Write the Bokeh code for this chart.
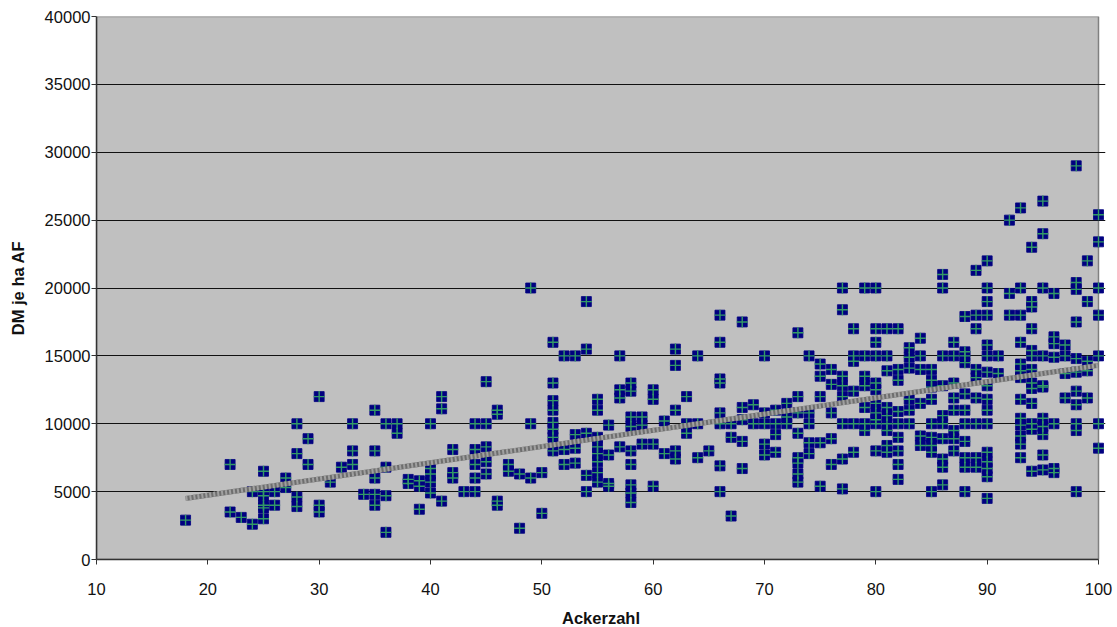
from bokeh.plotting import figure
from bokeh.embed import file_html
from bokeh.resources import INLINE
from bokeh.models import FixedTicker, Range1d

x_ticks = [10, 20, 30, 40, 50, 60, 70, 80, 90, 100]
y_ticks = [0, 5000, 10000, 15000, 20000, 25000, 30000, 35000, 40000]
x_title = "Ackerzahl"
y_title = "DM je ha AF"

ackerzahl = [18, 22, 23, 24, 25, 26, 27, 28, 29, 30, 31, 32, 33, 34, 35, 36, 37, 38, 39, 40,
             41, 42, 43, 44, 45, 46, 47, 48, 49, 50, 51, 52, 53, 54, 55, 56, 57, 58, 59, 60,
             61, 62, 63, 64, 65, 66, 67, 68, 69, 70, 71, 72, 73, 74, 75, 76, 77, 78, 79, 80,
             81, 82, 83, 84, 85, 86, 87, 88, 89, 90, 91, 92, 93, 94, 95, 96, 97, 98, 99, 100]
dm_je_ha = [
    [2900], [7000, 3500], [3100], [2600, 5000], [6500, 5000, 4700, 4000, 3800, 3000],
    [5000, 4000], [6000, 5300], [10000, 7800, 4600, 3900], [8900, 7000], [12000, 4000, 3500],
    [5700], [6800], [10000, 8000, 7000], [4800], [11000, 8000, 6000, 4800, 4000],
    [10000, 6800, 4700, 2000], [10000, 9300], [5900, 5600], [5800, 5400, 3700],
    [10000, 6700, 6300, 5700, 4900],
    [12000, 11100, 4300], [8100, 6400, 6000], [5000], [10000, 8100, 7000, 6000, 5000],
    [13100, 10000, 8300, 7200, 6300], [11000, 10700, 4300, 4000], [7000, 6500], [6300, 2300],
    [20000, 10000, 6000], [6400, 3400],
    [16000, 13000, 11700, 11000, 10100, 9600, 9000, 8000], [15000, 8100, 7000],
    [15000, 9200, 8200, 7100], [19000, 15500, 9300, 6200, 5000],
    [11800, 11000, 9000, 8300, 7800, 7200, 6400, 5700], [9900, 7700, 5600, 5400],
    [15000, 12500, 11900, 8300], [13000, 12400, 10500, 9800, 8000, 7000, 5500, 4900, 4200],
    [10500, 9900, 8500], [12500, 11800, 8500, 5400],
    [10200, 7800], [15500, 14300, 11000, 8000, 7400], [12000, 10000, 9300],
    [15000, 10000, 7500], [8000], [18000, 16000, 13300, 13000, 10800, 10000, 6900, 5000],
    [10000, 9000, 3200], [17500, 11200, 10300, 8700, 6700], [11400, 10000],
    [15000, 10800, 10000, 8500, 7700],
    [11000, 10000, 9200, 7900], [11500, 10500, 10000],
    [16700, 12000, 10800, 9300, 7500, 7100, 6300, 5700], [15000, 10800, 10000, 8600, 7800],
    [14400, 13500, 12000, 8600, 5400], [14000, 12900, 10800, 8900, 7000],
    [20000, 18400, 13500, 12800, 12000, 10000, 7400, 5200],
    [17000, 15000, 14600, 12400, 10000, 7900], [20000, 15000, 13500, 12800, 11200, 10000, 9500],
    [20000, 17000, 16000, 15000, 13000, 12500, 11500, 10800, 10300, 10000, 8000, 5000],
    [17000, 15000, 13900, 11200, 10600, 10000, 9500, 8400, 7900],
    [17000, 14000, 13200, 10900, 10000, 9000, 8000, 7000, 5900],
    [15600, 14900, 14100, 11800, 11000, 10000], [16300, 15000, 14000, 11500, 9100, 8400],
    [14000, 13200, 12700, 11800, 10000, 9000, 8400, 7900, 5000],
    [21000, 20000, 15000, 12800, 10600, 10000, 8900, 7400, 6800, 5500],
    [16000, 15000, 13000, 11900, 11000, 9500, 8900, 8000],
    [17900, 15300, 15000, 14500, 12200, 11000, 10000, 8700, 7500, 6800, 5000],
    [21300, 18000, 17000, 14000, 13400, 11900, 10000, 7500, 6800],
    [22000, 20000, 19000, 18000, 15800, 15000, 13800, 12800, 11800, 11000, 10000, 7900, 7200, 6700, 6100, 4500],
    [15000, 13700], [25000, 19600, 18000],
    [25900, 20000, 18000, 16000, 14400, 13900, 13400, 11800, 10400, 9900, 9100, 8500, 7500],
    [23000, 19000, 18600, 17000, 15400, 15000, 14000, 13000, 12600, 11500, 10000, 9600, 6500],
    [26400, 24000, 20000, 15000, 12800, 12700, 10400, 9800, 9200, 7700, 6600],
    [19600, 16400, 15900, 14900, 10000, 6700, 6400], [15800, 15000, 13700, 11900],
    [29000, 20400, 19900, 17500, 14800, 13800, 12400, 11400, 10000, 9500, 5000],
    [22000, 19000, 14600, 13900, 11900], [25400, 23400, 20000, 18000, 15000, 10000, 8200],
]
trend_x = [18, 100]
trend_y = [4500, 14300]

xs = [a for a, g in zip(ackerzahl, dm_je_ha) for _ in g]
ys = [v for g in dm_je_ha for v in g]

FONT = "Liberation Sans"
X0, X1 = x_ticks[0], x_ticks[-1]
Y0, Y1 = y_ticks[0], y_ticks[-1]
# The frame runs a little past x=100 so the markers on the right edge stay whole.
p = figure(width=1117, height=627, output_backend="svg", toolbar_location=None,
           x_range=Range1d(X0, X1 + 7 * (X1 - X0) / 1002), y_range=Range1d(Y0, Y1),
           min_border_left=96, min_border_right=12, min_border_top=16, min_border_bottom=68,
           background_fill_color="white", border_fill_color="white",
           x_axis_label=x_title, y_axis_label=y_title)
p.frame_width = 1009
p.frame_height = 543
p.outline_line_color = None

p.quad(left=[X0], right=[X1], bottom=[Y0], top=[Y1], fill_color="#C0C0C0",
       line_color="#808080", line_width=1.5, level="image")

p.xaxis.ticker = FixedTicker(ticks=x_ticks)
p.yaxis.ticker = FixedTicker(ticks=y_ticks)
p.xaxis.bounds = (X0, X1)
p.xgrid.visible = False
p.ygrid.ticker = FixedTicker(ticks=y_ticks)
p.ygrid.bounds = (X0, X1)
p.ygrid.grid_line_color = "#111111"
p.ygrid.grid_line_width = 1.2
for ax in (p.xaxis[0], p.yaxis[0]):
    ax.axis_line_color = "#333333"
    ax.axis_line_width = 1.5
    ax.major_tick_line_color = "#333333"
    ax.major_tick_in = 0
    ax.major_tick_out = 5
    ax.minor_tick_line_color = None
    ax.major_label_text_font = FONT
    ax.major_label_text_font_size = "16.5px"
    ax.major_label_text_color = "#111111"
    ax.axis_label_text_font = FONT
    ax.axis_label_text_font_size = "16.5px"
    ax.axis_label_text_font_style = "bold"
    ax.axis_label_text_color = "#111111"
p.xaxis.major_label_standoff = 18
p.xaxis.axis_label_standoff = 11
p.yaxis.major_label_standoff = 1
p.yaxis.axis_label_standoff = 15

p.scatter(xs, ys, marker="square", size=10, fill_color="#000080", line_color="#000080", line_width=0.8)
p.scatter(xs, ys, marker="cross", size=11, line_color="#339966", line_width=1.4)
p.line(trend_x, trend_y, line_color="#6e6e6e", line_width=5)
p.line(trend_x, trend_y, line_color="#a0a0a0", line_width=5, line_dash="2 2")

open("out.html", "w").write(file_html(p, INLINE))
